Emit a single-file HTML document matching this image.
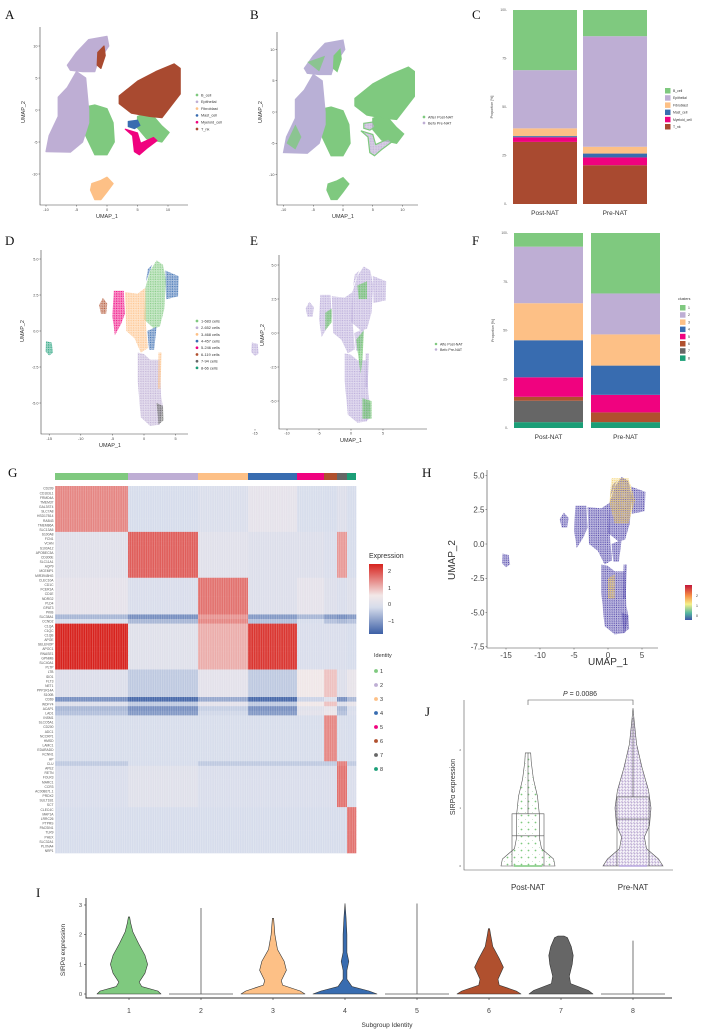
<!DOCTYPE html>
<html><head><meta charset="utf-8">
<style>
html,body{margin:0;padding:0;background:#fff;}
svg{display:block;font-family:"Liberation Sans",sans-serif;}
.pl{font-family:"Liberation Serif",serif;font-size:13px;fill:#111;}
.tk{font-size:4.5px;fill:#444;}
</style></head>
<body>
<svg id="fig" width="704" height="1034" viewBox="0 0 704 1034" xmlns="http://www.w3.org/2000/svg">
<defs>
<pattern id="stripes" width="2.3" height="4" patternUnits="userSpaceOnUse"><rect x="0" y="0" width="0.7" height="4" fill="#fff" opacity="0.28"/></pattern>
</defs>
<g id="root"></g>
</svg>
<script>
// ---------- DATA ----------
const colAccent = ["#7fc97f","#beaed4","#fdc086","#386cb0","#f0027f","#b0502e","#666666","#1b9e77"];
const cellTypes = ["B_cell","Epithelial","Fibroblast","Mast_cell","Myeloid_cell","T_nk"];
const cellTypeColors = ["#7fc97f","#beaed4","#fdc086","#386cb0","#f0027f","#a94a30"];
const groupsNAT = ["Post-NAT","Pre-NAT"];
const propC_post = [31,30,4,0.6,2.4,32];
const propC_pre = [13.5,57,3.5,2,4,20];
const propF_post = [7,29,19,19,10,2,11,3];
const propF_pre = [31,21,16,15,9,5,0,3];
const clusterLegend = ["1-683 cells","2-652 cells","3-468 cells","4-457 cells","5-246 cells","6-119 cells","7-94 cells","8-66 cells"];
const propTicks = [0,25,50,75,100];
// heatmap
const clusterWidths = [73,70,50,49,27,13,10,9];
const genes = ["CD209","CD163L1","FRMD4A","TMEM37","GAL3ST4","SLC7A8","HSD17B14","RAB43","TMEM86A","SLC13A5",
"S100A8","FCN1","VCAN","S100A12","APOBEC3A","CD300E","SLC11A1","AQP9","MCEMP1","MIR3945HG",
"CLEC10A","CD1C","FCER1A","CD1E","NDRG2","PLD4","GPAT3","PKIB","SLC38A1","CCND2",
"C1QA","C1QC","C1QB","APOE","SELENOP","APOC1","RNASE1","GPNMB","SLC40A1","PLTP",
"LTB","IDO1","FLT3","NET1","PPP1R14A","S100B","CD69","WDFY4","ACAP1","LAD1",
"INSM1","SLCO5A1","CD200","ADC1","NCCRP1","HMSD","LAMC1","EDARADD","KCNN1","HP",
"CLU","APE2","RETN","FOLR3","MARC1","CCR3","AC008671.1","PRDX2","SULT1B1","SCT",
"CLEC4C","MAP1A","LRRC26","PTPRS","PACSIN1","TLR9","PHEX","SLC32A1","PLXNA4","NRP1"];
const blockVals = [
 [1.5,0.0,0.15,0.5,0.05,0.0,0.2,0.0],
 [0.35,1.7,0.35,0.2,0.2,0.1,1.4,0.0],
 [0.5,0.1,1.6,0.2,0.5,0.2,0.1,0.2],
 [2.0,0.3,1.3,1.9,0.1,0.1,0.1,0.0],
 [0.2,-0.2,0.45,-0.2,0.9,1.2,0.2,0.6],
 [0.05,0.05,0.05,0.05,0.05,1.5,0.05,0.0],
 [0.1,0.3,0.1,0.1,0.1,0.1,1.6,0.1],
 [0.0,0.0,0.0,0.0,0.0,0.0,0.0,1.6]];
const rowOffsets = {28:-0.9,29:-0.5,46:-1.0,48:-0.6,49:-0.5,60:-0.3};
// I violins: [value, half-width fraction]
const violinI = [
 [[0,1],[0.1,0.9],[0.25,0.4],[0.4,0.32],[0.7,0.5],[1.0,0.58],[1.3,0.5],[1.7,0.3],[2.1,0.12],[2.4,0.05],[2.6,0.02]],
 [[0,1],[2.9,0]],
 [[0,1],[0.1,0.85],[0.3,0.3],[0.45,0.26],[0.8,0.42],[1.1,0.35],[1.5,0.14],[2.0,0.06],[2.55,0.02]],
 [[0,1],[0.1,0.75],[0.25,0.22],[0.5,0.06],[0.8,0.06],[1.1,0.12],[1.4,0.06],[2.0,0.06],[2.6,0.03],[3.05,0.0]],
 [[0,1],[3.05,0]],
 [[0,1],[0.1,0.85],[0.3,0.32],[0.5,0.28],[0.9,0.45],[1.2,0.32],[1.6,0.12],[2.0,0.05],[2.2,0.02]],
 [[0,1],[0.12,0.85],[0.35,0.3],[0.6,0.26],[1.0,0.35],[1.3,0.38],[1.6,0.32],[1.9,0.2],[1.95,0.1]],
 [[0,1],[1.8,0]]];
const violinILabels = ["1","2","3","4","5","6","7","8"];
const violinJPost = [[0,1],[0.12,0.95],[0.3,0.5],[0.5,0.42],[0.9,0.42],[1.2,0.35],[1.5,0.2],[1.8,0.12],[1.95,0.1]];
const violinJPre = [[0,1],[0.12,0.85],[0.3,0.45],[0.5,0.38],[0.7,0.55],[1.0,0.6],[1.3,0.52],[1.7,0.3],[2.1,0.12],[2.5,0.04],[2.72,0.0]];
const boxJ = [[0,0.52,0.9,1.95],[0,0.81,1.19,2.55]]; // min, median, q3, max
// UMAP region outlines (data units)
const umapA = {
 Epithelial:[[[-6.5,7],[-5,9],[-3,11],[0,11.5],[0.3,10],[-1.5,7.5],[-2,6],[-4,6],[-6,6.2]],
   [[-10,-6.5],[-9.5,-4],[-8,-1],[-8,2],[-6.5,3.5],[-5,6],[-3.5,5],[-3,0],[-3,-2],[-4,-5],[-6,-6.6]]],
 B_cell:[[[-3.5,0.5],[-2,0.8],[0,0.2],[1,-2],[1.2,-5],[0,-7],[-2,-7],[-3.5,-4]],
   [[5,-1],[7,-0.3],[9,-2.5],[10.2,-3.5],[9,-5],[6.5,-4.5],[5,-2.8]]],
 Fibroblast:[[[-2.5,-11.5],[-1,-11],[0,-10.5],[1,-11.5],[0,-12.8],[-1,-14],[-2,-14],[-2.7,-12.5]]],
 Mast_cell:[[[3.5,-1.8],[5,-1.6],[5.4,-2.4],[4.5,-2.9],[3.5,-2.6]]],
 Myeloid_cell:[[[3,-3],[4.2,-4],[4.5,-6.5],[5.3,-7],[6.5,-6],[8.2,-4.8],[7.6,-4.3],[5.5,-5.2],[5,-3.6]]],
 T_nk:[[[2,2.2],[5,4.5],[8,6],[11,7.2],[12,6.5],[12,2.5],[9,-1.2],[7,-1],[4,-0.5],[2,1]],
   [[-1.5,9],[-0.5,10],[-0.3,8.5],[-1,6.5],[-1.6,7]]]};
const umapD = [
 [[[0,0.8],[0.2,3],[1,4.2],[2,4.9],[3,4.6],[3.5,3.5],[3.2,1.5],[2.5,0.3],[1.5,0.2]]],
 [[[-1,-1.5],[0,-1.6],[1,-2],[2.5,-2],[2.7,-4.5],[3,-5.3],[2.5,-6.5],[1,-6.6],[-0.5,-6],[-1,-3.5]]],
 [[[-3,2.7],[-1,2.6],[0.2,3],[0.3,0.5],[0.6,-1.2],[-0.5,-1.5],[-1.5,-0.5],[-2.8,0]],[[2.3,-1.5],[2.8,-1.5],[2.6,-4],[2.2,-4]]],
 [[[3.4,4.2],[5.5,3.8],[5.4,2.4],[3.5,2.2]],[[0.5,0],[2,0.3],[1.6,-1.3],[0.8,-1.3]],[[0.3,3.4],[1.3,4.6],[0.6,4.3]]],
 [[[-4.8,2.8],[-3.2,2.8],[-3,1.2],[-3.6,0.5],[-4.6,-0.3],[-5,1]]],
 [[[-7.1,1.8],[-6.5,2.3],[-5.8,1.9],[-6,1.2],[-6.8,1.2]]],
 [[[2,-5],[3,-5.2],[3.1,-6.2],[2.3,-6.5]]],
 [[[-15.5,-0.7],[-14.6,-0.8],[-14.4,-1.5],[-15,-1.7],[-15.6,-1.4]]]];
const umapEGreen = [[[0.8,-0.5],[2,0.2],[1.8,-2],[1.5,-3]],[[1.8,-4.8],[3.2,-5],[3.2,-6.3],[1.8,-6.3]],[[-4,1.5],[-3,1.8],[-3,0.8],[-4,0.2]],[[1,3.5],[2.5,3.8],[2.5,2.5],[1.2,2.5]]];
const umapHHot = [[[0.5,4.8],[3,4.8],[4,3.2],[3,1.5],[1,1.5],[0.2,3]],[[0,-2.5],[1,-2.2],[1,-4],[0,-4]]];
const ticksUA_x=[-10,-5,0,5,10], ticksUA_y=[-10,-5,0,5,10];
const ticksD_x=[-15,-10,-5,0,5], ticksD_y=[-5,-2.5,0,2.5,5];
const ticksH_y=[-7.5,-5,-2.5,0,2.5,5];

// ---------- HELPERS ----------
const NS="http://www.w3.org/2000/svg";
const root=document.getElementById('root');
function mk(tag,attrs,parent,text){const e=document.createElementNS(NS,tag);for(const k in attrs)e.setAttribute(k,attrs[k]);if(text!==undefined)e.textContent=text;(parent||root).appendChild(e);return e;}
function grp(parent){return mk('g',{},parent);}
function pathFrom(pts,sx,sy){return 'M'+pts.map(p=>sx(p[0]).toFixed(1)+','+sy(p[1]).toFixed(1)).join('L')+'Z';}
const defs=document.querySelector('defs');
function dotPattern(id,color,sp,r,bgop){const p=mk('pattern',{id:id,width:sp,height:sp,patternUnits:'userSpaceOnUse'},defs);mk('rect',{width:sp,height:sp,fill:color,opacity:bgop},p);mk('circle',{cx:sp/2,cy:sp/2,r:r,fill:color},p);mk('circle',{cx:0,cy:0,r:r*0.8,fill:color},p);return 'url(#'+id+')';}

function panelLabel(t,x,y){const e=mk('text',{x:x,y:y,class:'pl'},root,t);

}

function axes(g,x0,x1,y0,y1,sx,sy,xt,yt,fs,fmt){
 const a=mk('path',{d:`M${x0},${y0}L${x0},${y1}L${x1},${y1}`,stroke:'#444','stroke-width':0.6,fill:'none'},g);
 
 
 xt.forEach(v=>{mk('line',{x1:sx(v),x2:sx(v),y1:y1,y2:y1+1.5,stroke:'#444','stroke-width':0.5},g);
  const t=mk('text',{x:sx(v),y:y1+2+fs,'font-size':fs,'text-anchor':'middle',fill:'#444'},g,String(v));
  
  });
 yt.forEach(v=>{mk('line',{x1:x0-1.5,x2:x0,y1:sy(v),y2:sy(v),stroke:'#444','stroke-width':0.5},g);
  const t=mk('text',{x:x0-2.5,y:sy(v)+fs*0.35,'font-size':fs,'text-anchor':'end',fill:'#444'},g,fmt?fmt(v):String(v));
  
  });
}
function axTitles(g,xt,xx,xy,yt,yx,yy,fs){
 const a=mk('text',{x:xx,y:xy,'font-size':fs,'text-anchor':'middle',fill:'#333'},g,xt);
 
 
 const b=mk('text',{x:yx,y:yy,'font-size':fs,'text-anchor':'middle',fill:'#333',transform:`rotate(-90 ${yx} ${yy})`},g,yt);
 
 
}
function legend(g,labels,colors,x,y0,dy,fs,title){
 if(title){const t=mk('text',{x:x-2,y:y0-dy,'font-size':fs,fill:'#333'},g,title);
  
  }
 labels.forEach((l,i)=>{const e=grp(g);
  
  
  mk('circle',{cx:x,cy:y0+i*dy,r:fs*0.35,fill:colors[i]},e);
  mk('text',{x:x+4,y:y0+i*dy+fs*0.35,'font-size':fs,fill:'#333'},e,l);});
}

// ---------- PANEL A ----------
panelLabel('A',5,19);
{const g=grp();
 const sx=x=>107+6.1*x, sy=y=>110-6.4*y;
 cellTypes.forEach((ct,i)=>{umapA[ct].forEach(poly=>{const p=mk('path',{d:pathFrom(poly,sx,sy),fill:cellTypeColors[i],stroke:cellTypeColors[i],'stroke-width':1.2,'stroke-linejoin':'round'},g);
  
  });});
 axes(g,40,188,27,205,sx,sy,ticksUA_x,ticksUA_y,3.8);
 axTitles(g,'UMAP_1',107,218,'UMAP_2',25,112,5.5);
 legend(g,cellTypes,cellTypeColors,197,95,6.8,3.8);
}
// ---------- PANEL B ----------
panelLabel('B',250,19);
{const g=grp();
 const sx=x=>343+5.95*x, sy=y=>112-6.25*y;
 const lav=dotPattern('dB','#beaed4',1.6,0.55,0.5);
 cellTypes.forEach((ct,i)=>{umapA[ct].forEach(poly=>{const p=mk('path',{d:pathFrom(poly,sx,sy),fill:(ct==='Epithelial'?'#b9b0d6':(ct==='Myeloid_cell'||ct==='Mast_cell')?lav:'#7fc97f'),stroke:(ct==='Epithelial'?'#b9b0d6':'#7fc97f'),'stroke-width':1.2},g);
  
  });});
 const ov=[[[-9.5,-5],[-8,-2],[-7,-4],[-8,-6]],[[-6,8],[-3,9],[-4,6.5]],[[-1.5,-12.5],[0,-12.5],[-1,-14]]];
 ov.forEach(poly=>{const p=mk('path',{d:pathFrom(poly,sx,sy),fill:'#7fc97f',opacity:0.8},g);
  
  });
 axes(g,277,418,32,205,sx,sy,ticksUA_x,ticksUA_y,3.8);
 axTitles(g,'UMAP_1',343,218,'UMAP_2',262,112,5.5);
 legend(g,['After Post-NAT','Befo Pre-NAT'],['#7fc97f','#beaed4'],424,117,6,3.8);
}
// ---------- stacked bars (first category on top) ----------
function stacked(g,vals,colors,x,w,yTop,yBot){
 let cum=0;const s=v=>yBot-(yBot-yTop)*v/100;
 for(let i=vals.length-1;i>=0;i--){const v=vals[i];
  const r=mk('rect',{x:x,y:s(cum+v),width:w,height:Math.max(0,s(cum)-s(cum+v)),fill:colors[i]},g);
  
  
  cum+=v;}
}
function propPanel(name,yTop,yBot,xs,w,post,pre,colors,labels,lx,ly,title){
 const g=grp();
 stacked(g,post,colors,xs[0],w,yTop,yBot);
 stacked(g,pre,colors,xs[1],w,yTop,yBot);
 const s=v=>yBot-(yBot-yTop)*v/100;
 propTicks.forEach(v=>{const t=mk('text',{x:xs[0]-6,y:s(v)+1.2,'font-size':3.3,'text-anchor':'end',fill:'#555'},g,v+'-');
  
  });
 const yt=mk('text',{x:xs[0]-20,y:(yTop+yBot)/2,'font-size':3.6,'text-anchor':'middle',fill:'#444',transform:`rotate(-90 ${xs[0]-20} ${(yTop+yBot)/2})`},g,'Proportion [%]');
 
 
 groupsNAT.forEach((gn,i)=>{const t=mk('text',{x:xs[i]+w/2,y:yBot+11,'font-size':6.5,'text-anchor':'middle',fill:'#333'},g,gn);
  
  });
 if(title){const t=mk('text',{x:lx-2,y:ly-5,'font-size':3.6,fill:'#333'},g,title);
  
  }
 labels.forEach((l,i)=>{const e=grp(g);
  
  
  mk('rect',{x:lx,y:ly+i*7.2,width:5.5,height:5.5,fill:colors[i]},e);
  mk('text',{x:lx+8,y:ly+i*7.2+4,'font-size':3.4,fill:'#333'},e,l);});
}
panelLabel('C',472,19);
propPanel('proportion-celltype',10,204,[513,583],64,propC_post,propC_pre,cellTypeColors,cellTypes,665,88);
// ---------- PANEL D ----------
panelLabel('D',5,245);
{const g=grp();
 const sx=x=>144+6.32*x, sy=y=>331-14.4*y;
 umapD.forEach((polys,i)=>{const f=dotPattern('dD'+i,colAccent[i],1.7,0.55,0.3);polys.forEach(poly=>{const p=mk('path',{d:pathFrom(poly,sx,sy),fill:f},g);
  
  });});
 axes(g,41,188,250,434,sx,sy,ticksD_x,ticksD_y,3.8,v=>v.toFixed(1));
 axTitles(g,'UMAP_1',110,447,'UMAP_2',24,331,5.5);
 legend(g,clusterLegend,colAccent,197,321,6.7,3.9);
}
// ---------- PANEL E ----------
panelLabel('E',250,245);
{const g=grp();
 const sx=x=>351+6.4*x, sy=y=>333-13.6*y;
 const lav=dotPattern('dE','#b7a8d8',1.7,0.55,0.3), gr=dotPattern('dEg','#6cc36c',1.7,0.6,0.35);
 umapD.forEach(polys=>polys.forEach(poly=>{const p=mk('path',{d:pathFrom(poly,sx,sy),fill:lav},g);
  
  }));
 umapEGreen.forEach(poly=>{const p=mk('path',{d:pathFrom(poly,sx,sy),fill:gr},g);
  
  });
 axes(g,279,427,255,429,sx,sy,ticksD_x,ticksD_y,3.6,v=>v.toFixed(1));
 axTitles(g,'UMAP_1',351,442,'UMAP_2',264,335,5.5);
 legend(g,['Afte Post-NAT','Befo Pre-NAT'],['#7fc97f','#beaed4'],436,344,5.5,3.6);
}
panelLabel('F',472,245);
propPanel('proportion-clusters',233,428,[514,591],69,propF_post,propF_pre,colAccent,violinILabels,680,305,'clusters');
// ---------- PANEL G heatmap ----------
panelLabel('G',8,477);
{const g=grp();
 const x0=55,yT=486,yB=853,rh=(yB-yT)/genes.length;
 function col(v){const lerp=(a,b,t)=>a.map((c,i)=>Math.round(c+(b[i]-c)*t));
  const blue=[60,95,165],mid=[214,220,235],wht=[243,232,232],red=[215,35,30];let c;
  if(v<=0)c=lerp(mid,blue,Math.min(1,-v/1.3));else if(v<=1)c=lerp(mid,wht,v);else c=lerp(wht,red,Math.min(1,(v-1)/1.0));
  return `rgb(${c[0]},${c[1]},${c[2]})`;}
 let xs=[x0];clusterWidths.forEach(w=>xs.push(xs[xs.length-1]+w));
 clusterWidths.forEach((w,c)=>{const r=mk('rect',{x:xs[c],y:473,width:w,height:7,fill:colAccent[c]},g);
  
  });
 genes.forEach((gn,r)=>{const gi=Math.min(7,Math.floor(r/10));const off=rowOffsets[r]||0;
  clusterWidths.forEach((w,c)=>{const v=blockVals[gi][c]+off*(blockVals[gi][c]>1.2?0.2:1);
   const cell=mk('rect',{x:xs[c],y:yT+r*rh,width:w+0.3,height:rh+0.3,fill:col(v)},g);
   
   });
  const t=mk('text',{x:x0-1.5,y:yT+r*rh+rh*0.8,'font-size':3.3,'text-anchor':'end',fill:'#555'},g,gn);
  
  });
 mk('rect',{x:x0,y:yT,width:xs[8]-x0,height:yB-yT,fill:'url(#stripes)'},g);
 const et=mk('text',{x:369,y:558,'font-size':7,fill:'#333'},g,'Expression');
 
 
 const lg=mk('linearGradient',{id:'expr',x1:0,y1:0,x2:0,y2:1},defs);
 [[0,col(2.4)],[0.45,col(1)],[0.62,col(0)],[1,col(-1.3)]].forEach(s=>mk('stop',{offset:s[0],'stop-color':s[1]},lg));
 const cb=mk('rect',{x:369,y:564,width:14,height:70,fill:'url(#expr)'},g);
 
 
 [['2',573],['1',590],['0',606],['\u22121',623]].forEach(a=>{const t=mk('text',{x:388,y:a[1],'font-size':5.5,fill:'#333'},g,a[0]);
  
  });
 legend(g,violinILabels,colAccent,376,671,14,5.5,'Identity');
}
// ---------- PANEL H ----------
panelLabel('H',422,477);
{const g=grp();
 const sx=x=>608+6.8*x, sy=y=>544-13.7*y;
 const pu=dotPattern('dH','#4b40a8',1.8,0.55,0.25), hot=dotPattern('dHh','#f2c94c',2.2,0.6,0.2);
 umapD.forEach(polys=>polys.forEach(poly=>{const p=mk('path',{d:pathFrom(poly,sx,sy),fill:pu},g);
  
  }));
 umapHHot.forEach(poly=>{const p=mk('path',{d:pathFrom(poly,sx,sy),fill:hot},g);
  
  });
 axes(g,487,658,470,648,sx,sy,ticksD_x,ticksH_y,8,v=>v.toFixed(1));
 axTitles(g,'UMAP_1',608,665,'UMAP_2',455,560,10);
 const lg=mk('linearGradient',{id:'spec',x1:0,y1:0,x2:0,y2:1},defs);
 [[0,'#c2163a'],[0.3,'#f68d45'],[0.55,'#f5f08a'],[0.8,'#56b8a0'],[1,'#3f55a8']].forEach(s=>mk('stop',{offset:s[0],'stop-color':s[1]},lg));
 const cb=mk('rect',{x:685,y:585,width:7,height:35,fill:'url(#spec)'},g);
 
 
 [['2',597],['1',607],['0',617]].forEach(a=>{const t=mk('text',{x:696,y:a[1],'font-size':3.5,fill:'#333'},g,a[0]);
  
  });
}
// ---------- violin helper ----------
function violinPath(prof,cx,hw,sy){const r=prof.map(p=>[cx+p[1]*hw,sy(p[0])]);const l=prof.slice().reverse().map(p=>[cx-p[1]*hw,sy(p[0])]);
 return 'M'+r.concat(l).map(p=>p[0].toFixed(1)+','+p[1].toFixed(1)).join('L')+'Z';}
// ---------- PANEL J ----------
panelLabel('J',425,716);
{const g=grp();
 const sy=v=>866-58*v, cx=[528,633];
 const la=mk('path',{d:'M464,700L464,870L673,870',stroke:'#555','stroke-width':0.6,fill:'none'},g);
 
 
 [0,1,2].forEach(v=>{const t=mk('text',{x:461,y:sy(v)+1,'font-size':3,'text-anchor':'end',fill:'#555'},g,String(v));
  
  });
 axTitles(g,'',0,0,'SIRPα expression',455,787,7);
 [violinJPost,violinJPre].forEach((prof,i)=>{
  const pts=dotPattern('dJ'+i,i?'#beaed4':'#7fc97f',i?3:7,i?1.1:0.9,0);
  const v=mk('path',{d:violinPath(prof,cx[i],i?30:27,sy),fill:pts,stroke:'#555','stroke-width':0.6},g);
  
  
  const b=boxJ[i];
  const bx=mk('path',{d:`M${cx[i]-16},${sy(b[0])}L${cx[i]-16},${sy(b[2])}L${cx[i]+16},${sy(b[2])}L${cx[i]+16},${sy(b[0])}M${cx[i]-16},${sy(b[1])}L${cx[i]+16},${sy(b[1])}M${cx[i]},${sy(b[2])}L${cx[i]},${sy(b[3])}`,stroke:'#555','stroke-width':0.6,fill:'none'},g);
  
  
  const zl=mk('line',{x1:cx[i]-14,x2:cx[i]+14,y1:sy(0),y2:sy(0),stroke:i?'#b9a8e0':'#7fc97f','stroke-width':1.5},g);
  
  
  const t=mk('text',{x:cx[i],y:890,'font-size':8,'text-anchor':'middle',fill:'#333'},g,groupsNAT[i]);
  
  });
 const br=mk('path',{d:'M528,705L528,700L633,700L633,705',stroke:'#555','stroke-width':0.6,fill:'none'},g);
 
 
 const pt=mk('text',{x:580,y:696,'font-size':7,'text-anchor':'middle',fill:'#333'},g);
 
 
 mk('tspan',{'font-style':'italic'},pt,'P');mk('tspan',{},pt,' = 0.0086');
}
// ---------- PANEL I ----------
panelLabel('I',36,897);
{const g=grp();
 const sy=v=>994-29.67*v, cx=i=>129+72*i;
 const la=mk('path',{d:'M86,898L86,998L672,998',stroke:'#333','stroke-width':0.9,fill:'none'},g);
 
 
 [0,1,2,3].forEach(v=>{mk('line',{x1:84,x2:86,y1:sy(v),y2:sy(v),stroke:'#333','stroke-width':0.6},g);
  const t=mk('text',{x:82,y:sy(v)+2,'font-size':5.5,'text-anchor':'end',fill:'#444'},g,String(v));
  
  });
 violinI.forEach((prof,i)=>{
  if(prof.length>2){const v=mk('path',{d:violinPath(prof,cx(i),32,sy),fill:colAccent[i],stroke:'#333','stroke-width':0.6,'stroke-linejoin':'round'},g);
   
   }
  else{const v=mk('path',{d:`M${cx(i)-32},${sy(0)}L${cx(i)+32},${sy(0)}M${cx(i)},${sy(0)}L${cx(i)},${sy(prof[1][0])}`,stroke:'#555','stroke-width':0.8,fill:'none'},g);
   
   }
  mk('line',{x1:cx(i),x2:cx(i),y1:998,y2:1000,stroke:'#333','stroke-width':0.6},g);
  const t=mk('text',{x:cx(i),y:1013,'font-size':7,'text-anchor':'middle',fill:'#444'},g,violinILabels[i]);
  
  });
 axTitles(g,'Subgroup Identity',387,1027,'SIRPα expression',65,950,6.5);
}
</script>
</body></html>
